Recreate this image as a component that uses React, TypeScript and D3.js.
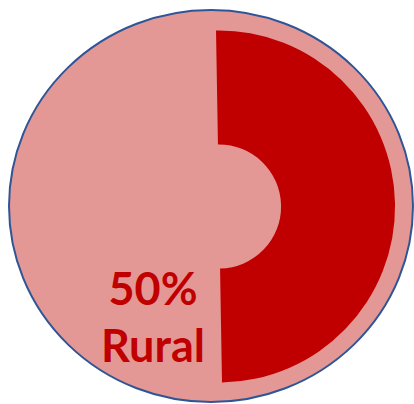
import React from "react";
import * as d3 from "d3";

const categories = ["Rural", "Other"];
const shares = [50, 50];
const highlight = "Rural";

const W = 414;
const H = 404;

function App() {
  // slight clockwise tilt, as in the reference
  const tilt = -0.017;
  const pie = d3
    .pie<number>()
    .sort(null)
    .startAngle(tilt)
    .endAngle(2 * Math.PI + tilt);
  const slices = pie(shares);

  const arc = d3.arc<d3.PieArcDatum<number>>().innerRadius(62).outerRadius(176);

  const idx = categories.indexOf(highlight);
  const pct = d3.format(".0%")(shares[idx] / d3.sum(shares));

  return (
    <svg
      width={W}
      height={H}
      style={{ position: "absolute", left: 0, top: 0 }}
    >
      <ellipse
        cx={211}
        cy={206}
        rx={202}
        ry={196}
        fill="#E49896"
        stroke="#2F5597"
        strokeWidth={2}
      />
      <g transform="translate(219,206.5)">
        {slices.map((s, i) =>
          categories[i] === highlight ? (
            <path key={i} d={arc(s) || ""} fill="#C00000" />
          ) : null
        )}
      </g>
      <g
        fill="#C00000"
        fontFamily="Lato, 'Open Sans', sans-serif"
        fontWeight="bold"
        fontSize={45}
        textAnchor="middle"
      >
        <text x={153} y={305}>{pct}</text>
        <text x={153} y={362}>{highlight}</text>
      </g>
    </svg>
  );
}

export default App;
